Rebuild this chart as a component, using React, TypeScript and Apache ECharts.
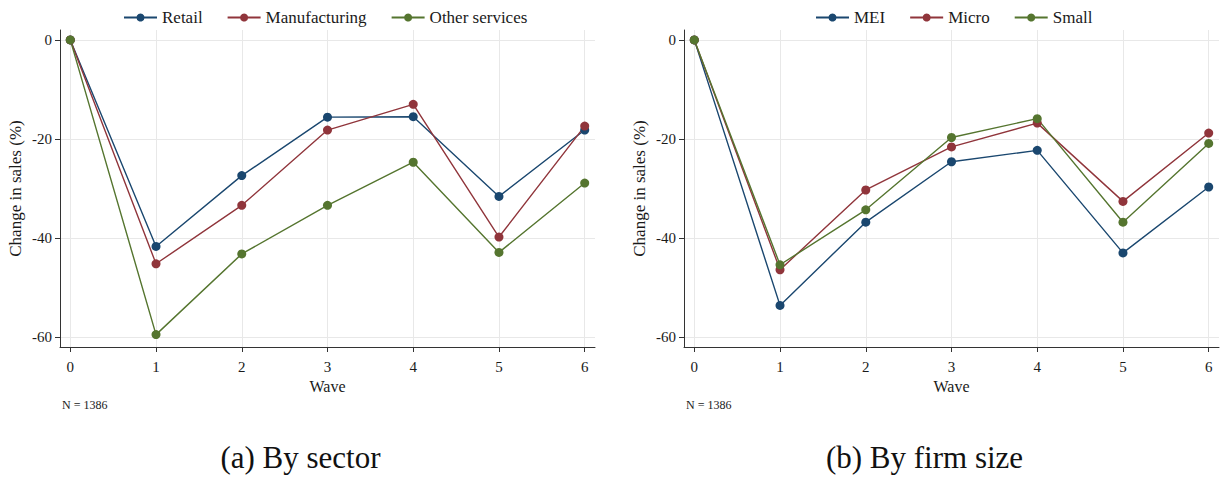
import React, { useEffect, useRef } from "react";
import * as echarts from "echarts";

// Survey waves on the x axis
const waves = [0, 1, 2, 3, 4, 5, 6];
const yTicks = [-60, -40, -20, 0];

// Panel (a): change in sales by sector (%)
const sectorNames = ["Retail", "Manufacturing", "Other services"];
const retail = [0, -41.7, -27.4, -15.6, -15.5, -31.6, -18.2];
const manufacturing = [0, -45.2, -33.4, -18.2, -13.0, -39.8, -17.4];
const otherServices = [0, -59.5, -43.2, -33.4, -24.7, -42.9, -28.9];

// Panel (b): change in sales by firm size (%)
const sizeNames = ["MEI", "Micro", "Small"];
const mei = [0, -53.6, -36.8, -24.6, -22.3, -43.0, -29.7];
const micro = [0, -46.4, -30.3, -21.6, -16.8, -32.6, -18.8];
const small = [0, -45.4, -34.3, -19.7, -15.9, -36.8, -20.9];

const sampleNote = "N = 1386";
const captions = ["(a) By sector", "(b) By firm size"];

const colors = ["#1a476f", "#90353b", "#55752f"];
const FONT = "Liberation Serif";
const TEXT = "#1a1a1a";

const panelLefts = [60, 684];
const PLOT_W = 535;
const PLOT_TOP = 30;
const PLOT_H = 317;

function makeAxes(idx: number) {
  const xAxis = {
    gridIndex: idx,
    type: "value",
    min: -0.12,
    max: 6.12,
    name: "Wave",
    nameLocation: "middle",
    nameGap: 30,
    nameTextStyle: { fontFamily: FONT, fontSize: 16, color: TEXT },
    axisLine: { show: true, onZero: false, lineStyle: { color: "#333", width: 1 } },
    axisTick: { show: true, length: 5, customValues: waves, lineStyle: { color: "#333" } },
    axisLabel: {
      customValues: waves,
      margin: 12,
      fontFamily: FONT,
      fontSize: 15,
      color: TEXT,
    },
    splitLine: { show: true, lineStyle: { color: "#e8e8e8", width: 1 } },
  };
  const yAxis = {
    gridIndex: idx,
    type: "value",
    min: -62,
    max: 2,
    name: "Change in sales (%)",
    nameLocation: "middle",
    nameRotate: 90,
    nameGap: 36,
    nameTextStyle: { fontFamily: FONT, fontSize: 17, color: TEXT },
    axisLine: { show: true, onZero: false, lineStyle: { color: "#333", width: 1 } },
    axisTick: { show: true, length: 5, customValues: yTicks, lineStyle: { color: "#333" } },
    axisLabel: {
      customValues: yTicks,
      margin: 8,
      fontFamily: FONT,
      fontSize: 15,
      color: TEXT,
    },
    splitLine: { show: true, lineStyle: { color: "#e8e8e8", width: 1 } },
  };
  return { xAxis, yAxis };
}

function makeSeries(name: string, values: number[], color: string, idx: number) {
  return {
    name,
    type: "line",
    xAxisIndex: idx,
    yAxisIndex: idx,
    data: waves.map((w, i) => [w, values[i]]),
    symbol: "circle",
    symbolSize: 9,
    lineStyle: { color, width: 1.4 },
    itemStyle: { color },
    emphasis: { disabled: true },
  };
}

export default function App() {
  const ref = useRef<HTMLDivElement>(null);

  useEffect(() => {
    if (!ref.current) return;
    const chart = echarts.init(ref.current, undefined, { renderer: "svg" });
    const a0 = makeAxes(0);
    const a1 = makeAxes(1);

    const legendBase = {
      top: 4,
      orient: "horizontal",
      itemWidth: 33,
      itemHeight: 10,
      itemGap: 24,
      textStyle: { fontFamily: FONT, fontSize: 17, color: TEXT },
      selectedMode: false,
    };

    chart.setOption({
      animation: false,
      backgroundColor: "#ffffff",
      grid: panelLefts.map((left) => ({
        left,
        top: PLOT_TOP,
        width: PLOT_W,
        height: PLOT_H,
        containLabel: false,
      })),
      xAxis: [a0.xAxis, a1.xAxis],
      yAxis: [a0.yAxis, a1.yAxis],
      legend: [
        { ...legendBase, left: 118, data: sectorNames },
        { ...legendBase, left: 810, data: sizeNames },
      ],
      series: [
        makeSeries(sectorNames[0], retail, colors[0], 0),
        makeSeries(sectorNames[1], manufacturing, colors[1], 0),
        makeSeries(sectorNames[2], otherServices, colors[2], 0),
        makeSeries(sizeNames[0], mei, colors[0], 1),
        makeSeries(sizeNames[1], micro, colors[1], 1),
        makeSeries(sizeNames[2], small, colors[2], 1),
      ],
      graphic: [
        ...panelLefts.map((left) => ({
          type: "text",
          left: left + 2,
          top: 399,
          style: { text: sampleNote, fontFamily: FONT, fontSize: 12, fill: TEXT },
        })),
        ...captions.map((text, i) => ({
          type: "text",
          x: panelLefts[i] + PLOT_W / 2 - 27,
          y: 457,
          style: {
            text,
            fontFamily: FONT,
            fontSize: 31,
            fill: "#111",
            align: "center",
            verticalAlign: "middle",
          },
        })),
      ],
    });
    return () => chart.dispose();
  }, []);

  return (
    <div
      ref={ref}
      style={{ position: "fixed", left: 0, top: 0, width: 1224, height: 477, background: "#fff" }}
    />
  );
}
